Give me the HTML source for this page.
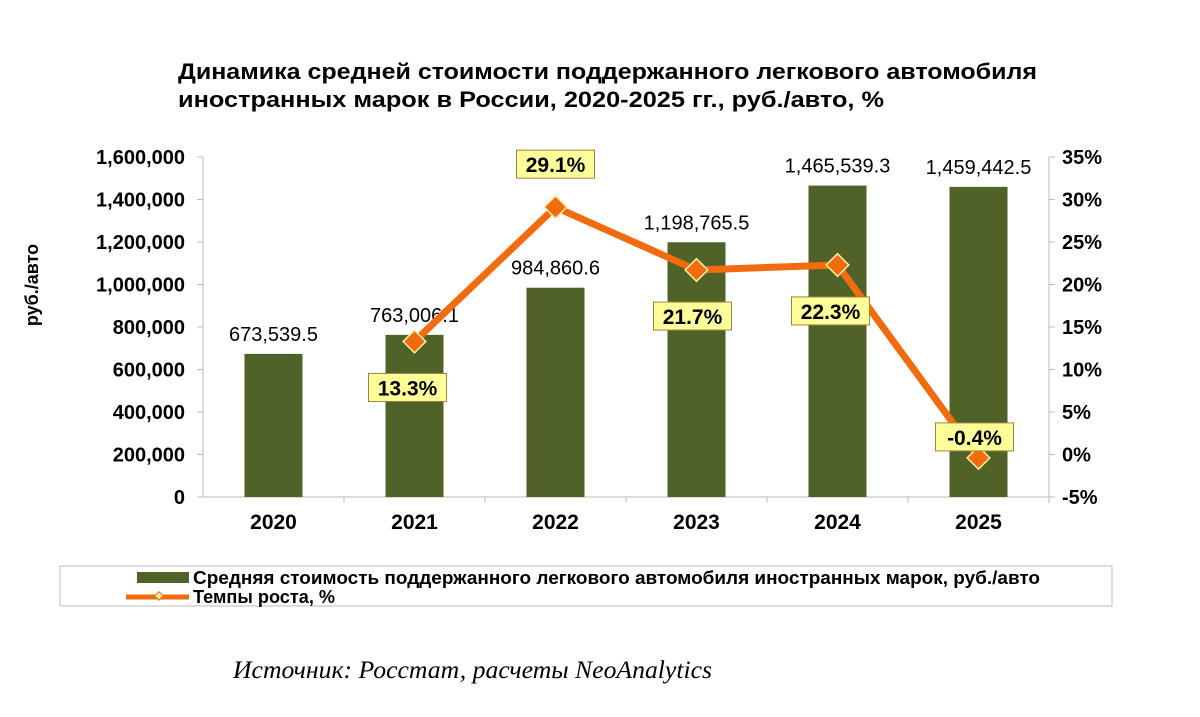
<!DOCTYPE html>
<html><head><meta charset="utf-8"><style>
body{margin:0;background:#fff;width:1200px;height:712px;overflow:hidden;font-family:"Liberation Sans",sans-serif}
</style></head><body>
<svg width="1200" height="712">
<text x="178" y="79" font-size="22" font-weight="bold" textLength="859" lengthAdjust="spacingAndGlyphs">Динамика средней стоимости поддержанного легкового автомобиля</text>
<text x="178" y="107" font-size="22" font-weight="bold" textLength="706" lengthAdjust="spacingAndGlyphs">иностранных марок в России, 2020-2025 гг., руб./авто, %</text>
<text transform="translate(38,285) rotate(-90)" text-anchor="middle" font-size="18" font-weight="bold">руб./авто</text>
<g id="axes"></g><g id="bars"></g><g id="line"></g>
<rect x="60" y="566" width="1052" height="40" fill="#fff" stroke="#bbb"/>
<rect x="137" y="572" width="52" height="11" fill="#4f6228"/>
<text x="193" y="584" font-size="18" font-weight="bold" textLength="847" lengthAdjust="spacingAndGlyphs">Средняя стоимость поддержанного легкового автомобиля иностранных марок, руб./авто</text>
<line x1="126" y1="597" x2="189" y2="597" stroke="#f26c0f" stroke-width="5"/>
<rect x="156" y="593" width="6" height="6" fill="#fff2a0" stroke="#f26c0f" transform="rotate(45 159 596)"/>
<text x="193" y="603" font-size="18" font-weight="bold" textLength="142" lengthAdjust="spacingAndGlyphs">Темпы роста, %</text>
<text x="233" y="678" font-size="25" font-style="italic" font-family="Liberation Serif,serif" textLength="479" lengthAdjust="spacingAndGlyphs">Источник: Росстат, расчеты NeoAnalytics</text>
</svg>
<script>
const years=["2020","2021","2022","2023","2024","2025"];
const prices=[673539.5,763006.1,984860.6,1198765.5,1465539.3,1459442.5];
const priceLabels=["673,539.5","763,006.1","984,860.6","1,198,765.5","1,465,539.3","1,459,442.5"];
const growth=[null,13.3,29.1,21.7,22.3,-0.4];
const growthLabels=["","13.3%","29.1%","21.7%","22.3%","-0.4%"];
const leftTicks=[0,200000,400000,600000,800000,1000000,1200000,1400000,1600000];
const rightTicks=[-5,0,5,10,15,20,25,30,35];
const NS="http://www.w3.org/2000/svg";
const x0=203,step=141,yTop=157,yBot=497;
const yL=v=>yBot-(v/1600000)*(yBot-yTop);
const yR=v=>yBot-((v+5)/40)*(yBot-yTop);
const xC=i=>x0+step*(i+0.5);
function mk(p,t,a){const e=document.createElementNS(NS,t);for(const k in a)e.setAttribute(k,a[k]);p.appendChild(e);return e;}
const ax=document.getElementById('axes'),bg=document.getElementById('bars'),lg=document.getElementById('line');
let e=mk(ax,'line',{x1:x0,y1:yTop,x2:x0,y2:yBot,stroke:'#bbb'});


e=mk(ax,'line',{x1:x0+6*step,y1:yTop,x2:x0+6*step,y2:yBot,stroke:'#bbb'});


e=mk(ax,'line',{x1:x0,y1:yBot,x2:x0+6*step,y2:yBot,stroke:'#bbb'});


leftTicks.forEach(v=>{const y=yL(v);mk(ax,'line',{x1:x0-6,y1:y,x2:x0,y2:y,stroke:'#bbb'});
const t=mk(ax,'text',{x:185,y:y+7,'text-anchor':'end','font-size':20,'font-weight':'bold'});t.textContent=v.toLocaleString('en-US');

});
rightTicks.forEach(v=>{const y=yR(v);mk(ax,'line',{x1:x0+6*step,y1:y,x2:x0+6*step+6,y2:y,stroke:'#bbb'});
const t=mk(ax,'text',{x:1062,y:y+7,'font-size':20,'font-weight':'bold'});t.textContent=v+'%';

});
years.forEach((yr,i)=>{mk(ax,'line',{x1:x0+step*(i+1),y1:yBot,x2:x0+step*(i+1),y2:yBot+6,stroke:'#bbb'});
const t=mk(ax,'text',{x:xC(i),y:529,'text-anchor':'middle','font-size':21,'font-weight':'bold'});t.textContent=yr;


const b=mk(bg,'rect',{x:xC(i)-29,y:yL(prices[i]),width:58,height:yBot-yL(prices[i]),fill:'#4f6228'});


const l=mk(bg,'text',{x:xC(i),y:yL(prices[i])-13,'text-anchor':'middle','font-size':20});l.textContent=priceLabels[i];

});
let pts=[];growth.forEach((g,i)=>{if(g!==null)pts.push([xC(i),yR(g)]);});
e=mk(lg,'polyline',{points:pts.map(p=>p.join(',')).join(' '),fill:'none',stroke:'#f26c0f','stroke-width':7,'stroke-linejoin':'round'});


const off=[0,[-7,46],[0,-43],[-4,46],[-7,46],[-4,-21]];
growth.forEach((g,i)=>{if(g===null)return;const x=xC(i),y=yR(g);
const m=mk(lg,'rect',{x:x-8,y:y-8,width:16,height:16,fill:'#f26c0f',stroke:'#fff2a0','stroke-width':1.5,transform:`rotate(45 ${x} ${y})`});


const cx=x+off[i][0],cy=y+off[i][1],w=growthLabels[i].length>5?68:78;
const r=mk(lg,'rect',{x:cx-w/2,y:cy-14,width:w,height:28,fill:'#ffff99',stroke:'#a08040'});


const t=mk(lg,'text',{x:cx,y:cy+8,'text-anchor':'middle','font-size':21,'font-weight':'bold'});t.textContent=growthLabels[i];

});
</script>
</body></html>
